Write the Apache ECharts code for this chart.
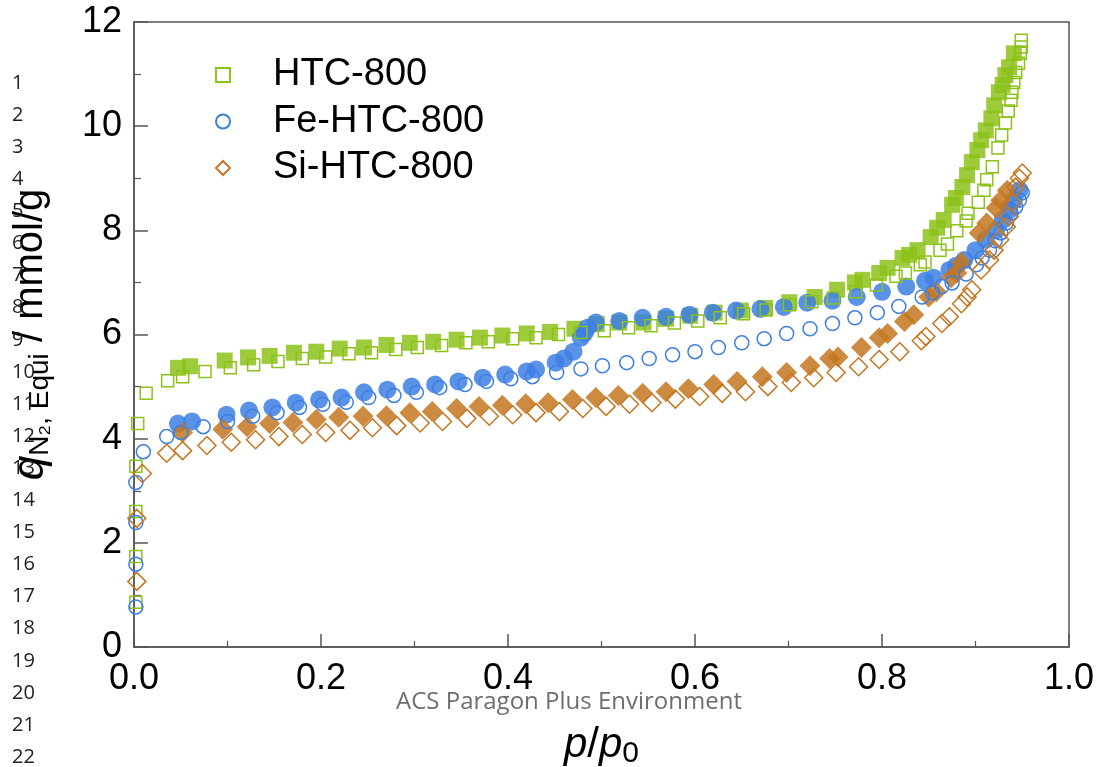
<!DOCTYPE html>
<html><head><meta charset="utf-8">
<script src="https://cdn.jsdelivr.net/npm/echarts@6/dist/echarts.min.js"></script>
<style>html,body{margin:0;padding:0;background:#fff}#c{width:1098px;height:767px}</style>
</head><body><div id="c"></div>
<script>
const seriesNames = ['HTC-800', 'Fe-HTC-800', 'Si-HTC-800'];
const xTicks = [0, 0.2, 0.4, 0.6, 0.8, 1.0];
const yTicks = [0, 2, 4, 6, 8, 10, 12];

const htcAds = [[0.002,0.86],[0.002,1.74],[0.002,2.6],[0.002,3.47],[0.004,4.29],[0.013,4.87],[0.036,5.11],[0.052,5.19],[0.076,5.29],[0.103,5.36],[0.128,5.42],[0.154,5.48],[0.18,5.54],[0.205,5.57],[0.23,5.63],[0.254,5.65],[0.28,5.71],[0.303,5.75],[0.329,5.79],[0.355,5.84],[0.379,5.86],[0.405,5.92],[0.43,5.94],[0.454,6.0],[0.478,6.04],[0.503,6.07],[0.529,6.13],[0.553,6.17],[0.578,6.22],[0.603,6.26],[0.627,6.32],[0.652,6.4],[0.676,6.47],[0.701,6.57],[0.725,6.63],[0.748,6.7],[0.772,6.82],[0.794,6.95],[0.815,7.12],[0.825,7.18],[0.841,7.34],[0.846,7.39],[0.862,7.62],[0.87,7.74],[0.88,7.99],[0.89,8.18],[0.892,8.33],[0.903,8.54],[0.909,8.77],[0.912,8.97],[0.918,9.22],[0.924,9.58],[0.928,9.83],[0.932,10.06],[0.935,10.29],[0.938,10.5],[0.939,10.65],[0.941,10.84],[0.943,11.03],[0.946,11.21],[0.948,11.4],[0.949,11.52],[0.949,11.65]];
const htcDes = [[0.941,11.4],[0.936,11.13],[0.932,10.98],[0.929,10.79],[0.925,10.65],[0.92,10.4],[0.917,10.15],[0.911,9.92],[0.906,9.73],[0.902,9.54],[0.896,9.31],[0.891,9.06],[0.886,8.83],[0.879,8.62],[0.875,8.49],[0.866,8.2],[0.859,8.05],[0.852,7.87],[0.838,7.62],[0.829,7.53],[0.822,7.47],[0.806,7.28],[0.797,7.18],[0.779,7.05],[0.771,7.0],[0.752,6.86],[0.728,6.72],[0.701,6.62],[0.675,6.51],[0.649,6.46],[0.621,6.42],[0.595,6.36],[0.569,6.3],[0.545,6.23],[0.519,6.23],[0.495,6.2],[0.471,6.11],[0.445,6.05],[0.42,6.02],[0.394,5.98],[0.37,5.94],[0.345,5.9],[0.32,5.86],[0.295,5.84],[0.27,5.8],[0.246,5.75],[0.22,5.73],[0.195,5.67],[0.171,5.65],[0.145,5.59],[0.122,5.56],[0.097,5.5],[0.06,5.39],[0.047,5.36]];
const feAds = [[0.002,0.77],[0.002,1.59],[0.002,2.39],[0.002,3.16],[0.01,3.75],[0.035,4.04],[0.05,4.12],[0.074,4.23],[0.1,4.33],[0.127,4.43],[0.153,4.5],[0.177,4.6],[0.202,4.66],[0.227,4.7],[0.251,4.79],[0.278,4.83],[0.302,4.89],[0.327,4.98],[0.354,5.04],[0.377,5.1],[0.403,5.15],[0.426,5.19],[0.452,5.27],[0.478,5.34],[0.501,5.4],[0.527,5.46],[0.551,5.54],[0.576,5.61],[0.6,5.67],[0.625,5.75],[0.65,5.84],[0.674,5.92],[0.698,6.02],[0.723,6.11],[0.747,6.21],[0.771,6.32],[0.795,6.42],[0.818,6.54],[0.843,6.72],[0.854,6.8],[0.864,6.92],[0.875,6.99],[0.89,7.16],[0.901,7.34],[0.907,7.47],[0.915,7.62],[0.921,7.8],[0.927,7.95],[0.933,8.14],[0.938,8.33],[0.943,8.45],[0.947,8.58],[0.95,8.72]];
const feDes = [[0.947,8.77],[0.941,8.58],[0.936,8.39],[0.929,8.2],[0.922,8.0],[0.911,7.82],[0.9,7.62],[0.888,7.43],[0.879,7.32],[0.872,7.24],[0.855,7.09],[0.846,7.03],[0.826,6.92],[0.8,6.82],[0.773,6.72],[0.747,6.65],[0.72,6.61],[0.695,6.53],[0.67,6.49],[0.644,6.46],[0.619,6.42],[0.594,6.38],[0.569,6.34],[0.544,6.32],[0.519,6.26],[0.494,6.23],[0.485,6.13],[0.482,6.03],[0.478,5.94],[0.47,5.67],[0.46,5.54],[0.451,5.46],[0.43,5.33],[0.42,5.29],[0.397,5.23],[0.373,5.17],[0.347,5.1],[0.322,5.04],[0.297,5.0],[0.271,4.94],[0.246,4.89],[0.222,4.79],[0.198,4.75],[0.173,4.69],[0.148,4.6],[0.123,4.54],[0.099,4.46],[0.062,4.33],[0.047,4.29]];
const siAds = [[0.003,1.26],[0.003,2.47],[0.009,3.33],[0.035,3.72],[0.052,3.77],[0.078,3.87],[0.104,3.93],[0.13,3.98],[0.155,4.04],[0.18,4.08],[0.205,4.12],[0.231,4.16],[0.255,4.21],[0.281,4.25],[0.306,4.3],[0.33,4.33],[0.356,4.39],[0.38,4.43],[0.405,4.46],[0.43,4.5],[0.455,4.52],[0.48,4.58],[0.505,4.62],[0.53,4.66],[0.554,4.69],[0.579,4.76],[0.605,4.81],[0.629,4.87],[0.654,4.9],[0.678,5.0],[0.703,5.08],[0.727,5.17],[0.751,5.27],[0.775,5.38],[0.797,5.52],[0.819,5.67],[0.842,5.88],[0.847,5.96],[0.864,6.21],[0.872,6.34],[0.885,6.59],[0.891,6.72],[0.896,6.86],[0.906,7.24],[0.915,7.43],[0.92,7.62],[0.926,7.82],[0.933,8.07],[0.936,8.26],[0.939,8.54],[0.943,8.83],[0.947,9.0],[0.95,9.1]];
const siDes = [[0.934,8.77],[0.927,8.58],[0.922,8.43],[0.912,8.14],[0.904,7.95],[0.885,7.38],[0.88,7.18],[0.874,7.09],[0.858,6.82],[0.85,6.72],[0.834,6.38],[0.824,6.25],[0.806,6.02],[0.797,5.94],[0.778,5.75],[0.753,5.57],[0.744,5.54],[0.723,5.4],[0.698,5.27],[0.672,5.19],[0.645,5.1],[0.62,5.04],[0.593,4.96],[0.569,4.9],[0.544,4.87],[0.518,4.83],[0.494,4.79],[0.469,4.75],[0.443,4.69],[0.419,4.67],[0.394,4.64],[0.369,4.62],[0.345,4.58],[0.319,4.52],[0.295,4.5],[0.27,4.44],[0.245,4.43],[0.219,4.41],[0.195,4.37],[0.17,4.31],[0.145,4.29],[0.121,4.23],[0.095,4.18],[0.052,4.12]];
const lineNumbers = Array.from({length: 22}, (_, i) => String(i + 1));

const FONT = '"Liberation Sans", Arial, sans-serif';
const green = '#8cc21a', blue = '#3d7fe3', orange = '#c47620';

function filled(name, data, symbol, size, color) {
  return { name: name, type: 'scatter', data: data, symbol: symbol, symbolSize: size, z: 2,
    itemStyle: { color: color, opacity: 0.85 }, emphasis: { disabled: true } };
}
function hollow(name, data, symbol, size, color) {
  return { name: name, type: 'scatter', data: data, symbol: symbol, symbolSize: size, z: 3,
    itemStyle: { color: 'rgba(255,255,255,0)', borderColor: color, borderWidth: 1.5, opacity: 1 }, emphasis: { disabled: true } };
}

const graphics = lineNumbers.map((t, i) => ({
  type: 'text', left: 12, top: 73 + i * 32.1,
  style: { text: t, font: '20px "Open Sans", "DejaVu Sans", sans-serif', fill: '#222' }, z: 1
}));
graphics.push({
  type: 'text', left: 396, top: 690, style: { text: 'ACS Paragon Plus Environment',
    font: '24px "Open Sans", "DejaVu Sans", sans-serif', fill: '#6e6e6e' }, z: 1
});

const chart = echarts.init(document.getElementById('c'), null, { renderer: 'canvas' });
chart.setOption({
  animation: false,
  backgroundColor: '#fff',
  grid: { left: 134, right: 29, top: 22, bottom: 120, show: true, borderColor: '#555', borderWidth: 1.5,
    backgroundColor: 'transparent', containLabel: false, outerBoundsMode: 'none' },
  legend: {
    data: seriesNames, orient: 'vertical', left: 210, top: 50, itemWidth: 14, itemHeight: 14, itemGap: 6.5,
    textStyle: { fontFamily: FONT, fontSize: 38, color: '#000', lineHeight: 40, padding: [0, 0, 0, 38] }
  },
  xAxis: {
    type: 'value', min: 0, max: 1, interval: 0.2,
    name: '{i|p}{n|/}{i|p}{s|0}', nameLocation: 'middle', nameGap: 74,
    nameTextStyle: { fontFamily: FONT, fontSize: 42, color: '#000',
      rich: { i: { fontFamily: FONT, fontSize: 42, fontStyle: 'italic', color: '#000' },
              n: { fontFamily: FONT, fontSize: 42, color: '#000' },
              s: { fontFamily: FONT, fontSize: 30, color: '#000', verticalAlign: 'bottom', padding: [18, 0, 0, 0] } } },
    axisLine: { show: true, lineStyle: { color: '#555', width: 1.5 } },
    axisTick: { show: true, inside: true, length: 13, lineStyle: { color: '#555', width: 1.5 } },
    minorTick: { show: true, splitNumber: 2, length: 6, lineStyle: { color: '#555', width: 1.2 } },
    splitLine: { show: false },
    axisLabel: { fontFamily: '"Liberation Sans Narrow", ' + FONT, fontSize: 36, color: '#000', margin: 14,
      formatter: v => (Math.round(v * 10) / 10).toFixed(1) }
  },
  yAxis: {
    type: 'value', min: 0, max: 12, interval: 2,
    axisLine: { show: true, lineStyle: { color: '#555', width: 1.5 } },
    axisTick: { show: true, inside: true, length: 14, lineStyle: { color: '#555', width: 1.5 } },
    minorTick: { show: true, splitNumber: 2, length: 7, lineStyle: { color: '#555', width: 1.2 } },
    splitLine: { show: false },
    axisLabel: { fontFamily: FONT, fontSize: 36, color: '#000', margin: 12 },
    name: '{i|q}{s|N₂, Equi}{n| / mmol/g}', nameLocation: 'middle', nameGap: 80, nameRotate: 90,
    nameTextStyle: { fontFamily: FONT, fontSize: 40, color: '#000',
      rich: { i: { fontFamily: FONT, fontSize: 44, fontStyle: 'italic', color: '#000' },
              n: { fontFamily: FONT, fontSize: 40, color: '#000' },
              s: { fontFamily: FONT, fontSize: 28, color: '#000', verticalAlign: 'bottom', padding: [18, 0, 0, 0] } } }
  },
  graphic: graphics,
  series: [
    filled('HTC-800 des', htcDes, 'rect', 16, green),
    filled('Fe-HTC-800 des', feDes, 'circle', 18, blue),
    filled('Si-HTC-800 des', siDes, 'diamond', 21, orange),
    hollow(seriesNames[0], htcAds, 'rect', 12, green),
    hollow(seriesNames[1], feAds, 'circle', 14, blue),
    hollow(seriesNames[2], siAds, 'diamond', 18, orange)
  ]
});
</script></body></html>
